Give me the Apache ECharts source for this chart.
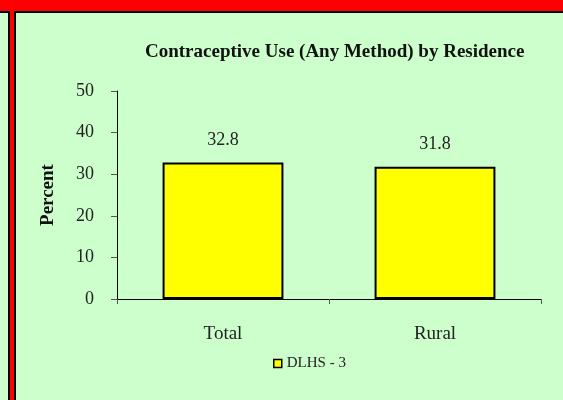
<!DOCTYPE html>
<html>
<head>
<meta charset="utf-8">
<script src="https://cdn.jsdelivr.net/npm/echarts@6/dist/echarts.min.js"></script>
<style>html,body{margin:0;padding:0;}#c{width:563px;height:400px;}</style>
</head>
<body>
<div id="c"></div>
<script>
var categories = ['Total', 'Rural'];
var seriesName = 'DLHS - 3';
var values = [32.8, 31.8];
var yTicks = [0, 10, 20, 30, 40, 50];
var titleText = 'Contraceptive Use (Any Method) by Residence';
var yAxisName = 'Percent';

var FONT = '"Liberation Serif", "Times New Roman", serif';
var chart = echarts.init(document.getElementById('c'));
chart.setOption({
  backgroundColor: '#FF0000',
  animation: false,
  graphic: [
    { type: 'rect', z: -10, shape: { x: -20, y: 12, width: 29, height: 420 },
      style: { fill: '#CCFFCC', stroke: '#000', lineWidth: 2 } },
    { type: 'rect', z: -10, shape: { x: 15, y: 12, width: 600, height: 420 },
      style: { fill: '#CCFFCC', stroke: '#000', lineWidth: 2 } }
  ],
  title: {
    text: titleText,
    left: 140, top: 38,
    textStyle: { fontFamily: FONT, fontWeight: 'bold', fontSize: 19, color: '#111' }
  },
  legend: {
    data: [seriesName],
    left: 273, top: 356, padding: 0,
    itemWidth: 8, itemHeight: 8, itemGap: 5,
    icon: 'rect',
    itemStyle: { borderColor: '#000', borderWidth: 1.5 },
    textStyle: { fontFamily: FONT, fontSize: 15, color: '#222' }
  },
  grid: { left: 117, top: 91, right: 22, bottom: 101, containLabel: false },
  xAxis: {
    type: 'category',
    data: categories,
    axisLine: { lineStyle: { color: '#000', width: 1 } },
    axisTick: { show: true, length: 5, lineStyle: { color: '#555' } },
    axisLabel: { margin: 26, fontFamily: FONT, fontSize: 19, color: '#222' }
  },
  yAxis: {
    type: 'value',
    min: yTicks[0], max: yTicks[yTicks.length - 1], interval: 10,
    name: yAxisName,
    nameLocation: 'middle', nameGap: 59,
    nameTextStyle: { fontFamily: FONT, fontWeight: 'bold', fontSize: 19, color: '#111' },
    axisLine: { show: true, lineStyle: { color: '#000', width: 1 } },
    axisTick: { show: true, length: 6, lineStyle: { color: '#555' } },
    splitLine: { show: false },
    axisLabel: { margin: 23, fontFamily: FONT, fontSize: 18, color: '#222' }
  },
  series: [{
    name: seriesName,
    type: 'bar',
    data: values,
    barWidth: '57%',
    itemStyle: { color: '#FFFF00', borderColor: '#000', borderWidth: 2 },
    label: { show: true, position: 'top', distance: 13, fontFamily: FONT, fontSize: 18, color: '#222' }
  }]
});
</script>
</body>
</html>
